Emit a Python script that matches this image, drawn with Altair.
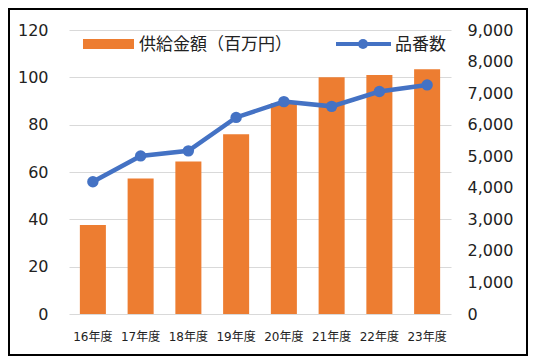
import altair as alt
import pandas as pd

years = ["16年度", "17年度", "18年度", "19年度", "20年度", "21年度", "22年度", "23年度"]
amount = [37.6, 57.3, 64.4, 76.0, 89.0, 100.0, 101.0, 103.4]
parts = [4190, 5010, 5170, 6230, 6730, 6580, 7050, 7260]
left_ticks = [0, 20, 40, 60, 80, 100, 120]
right_ticks = [0, 1000, 2000, 3000, 4000, 5000, 6000, 7000, 8000, 9000]
legend_labels = ["供給金額（百万円）", "品番数"]

ORANGE = "#ED7D31"
BLUE = "#4472C4"
FONT = "DejaVu Sans, Noto Sans CJK JP"
TXT = "#222222"

df = pd.DataFrame({"year": years, "amount": amount, "parts": parts})

x_enc = alt.X(
    "year:N", sort=years,
    scale=alt.Scale(paddingInner=0.455, paddingOuter=0.2275),
    axis=alt.Axis(title=None, labelAngle=0, ticks=False, domain=False,
                  labelFontSize=12, labelPadding=17),
)

bars = alt.Chart(df).mark_bar(color=ORANGE).encode(
    x=x_enc,
    y=alt.Y("amount:Q", scale=alt.Scale(domain=[0, 120]),
            axis=alt.Axis(values=left_ticks, title=None, grid=True, gridColor="#D9D9D9",
                          domain=False, ticks=False, labelPadding=21, labelFontSize=16)),
)

line = alt.Chart(df).mark_line(
    color=BLUE, strokeWidth=4.5,
    point=alt.OverlayMarkDef(filled=True, size=130, color=BLUE, opacity=1),
).encode(
    x=x_enc,
    y=alt.Y("parts:Q", scale=alt.Scale(domain=[0, 9000]),
            axis=alt.Axis(orient="right", values=right_ticks, format=",.0f", title=None,
                          grid=False, domain=False, ticks=False, labelPadding=16,
                          labelFontSize=16)),
)

leg1 = pd.DataFrame({"label": [legend_labels[0]]})
leg2 = pd.DataFrame({"label": [legend_labels[1]]})

sw = alt.Chart(leg1).mark_rect(color=ORANGE).encode(
    x=alt.value(14), x2=alt.value(65), y=alt.value(9), y2=alt.value(19))
t1 = alt.Chart(leg1).mark_text(align="left", baseline="middle", fontSize=17, font=FONT,
                               color=TXT).encode(
    x=alt.value(70), y=alt.value(14.5), text="label:N")
lr = alt.Chart(leg2).mark_rule(color=BLUE, strokeWidth=4).encode(
    x=alt.value(267), x2=alt.value(322), y=alt.value(14))
lp = alt.Chart(leg2).mark_point(filled=True, size=100, color=BLUE, opacity=1).encode(
    x=alt.value(294), y=alt.value(14))
t2 = alt.Chart(leg2).mark_text(align="left", baseline="middle", fontSize=17, font=FONT,
                               color=TXT).encode(
    x=alt.value(326), y=alt.value(14.5), text="label:N")

border = alt.Chart(leg1).mark_rect(filled=False, stroke="black", strokeWidth=2).encode(
    x=alt.value(-60), x2=alt.value(458), y=alt.value(-21), y2=alt.value(325))

chart = alt.layer(bars, line, sw, t1, lr, lp, t2, border).resolve_scale(
    y="independent"
).properties(
    width=382, height=284,
    padding={"left": 61, "top": 22, "right": 77, "bottom": 42},
    autosize=alt.AutoSizeParams(type="none"),
    background="white",
).configure_view(stroke=None).configure_axis(
    labelFont=FONT, labelColor=TXT
)

chart.save("out.html", embed_options={"renderer": "svg", "actions": False})
